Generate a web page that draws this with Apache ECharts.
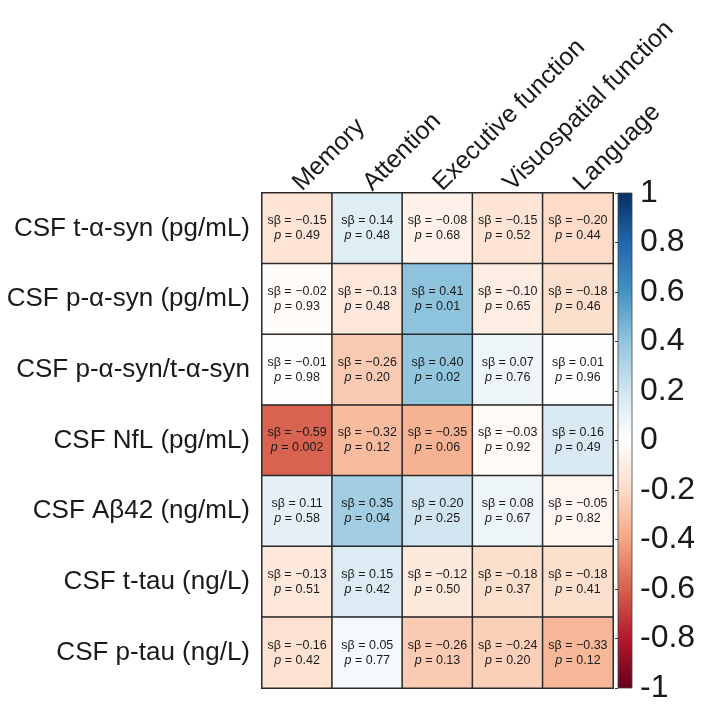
<!DOCTYPE html>
<html>
<head>
<meta charset="utf-8">
<script src="https://cdn.jsdelivr.net/npm/echarts@6/dist/echarts.min.js"></script>
<style>
html,body{margin:0;padding:0;background:#fff;}
#chart{width:709px;height:707px;}
</style>
</head>
<body>
<div id="chart"></div>
<script>
const columns = ['Memory', 'Attention', 'Executive function', 'Visuospatial function', 'Language'];
const rows = ['CSF t-α-syn (pg/mL)', 'CSF p-α-syn (pg/mL)', 'CSF p-α-syn/t-α-syn', 'CSF NfL (pg/mL)', 'CSF Aβ42 (ng/mL)', 'CSF t-tau (ng/L)', 'CSF p-tau (ng/L)'];
const betas = [
  [-0.15, 0.14, -0.08, -0.15, -0.20],
  [-0.02, -0.13, 0.41, -0.10, -0.18],
  [-0.01, -0.26, 0.40, 0.07, 0.01],
  [-0.59, -0.32, -0.35, -0.03, 0.16],
  [0.11, 0.35, 0.20, 0.08, -0.05],
  [-0.13, 0.15, -0.12, -0.18, -0.18],
  [-0.16, 0.05, -0.26, -0.24, -0.33]
];
const pvals = [
  ['0.49', '0.48', '0.68', '0.52', '0.44'],
  ['0.93', '0.48', '0.01', '0.65', '0.46'],
  ['0.98', '0.20', '0.02', '0.76', '0.96'],
  ['0.002', '0.12', '0.06', '0.92', '0.49'],
  ['0.58', '0.04', '0.25', '0.67', '0.82'],
  ['0.51', '0.42', '0.50', '0.37', '0.41'],
  ['0.42', '0.77', '0.13', '0.20', '0.12']
];
const colorbarTicks = ['-1', '-0.8', '-0.6', '-0.4', '-0.2', '0', '0.2', '0.4', '0.6', '0.8', '1'];
const palette = ['#67001F', '#B2182B', '#D6604D', '#F4A582', '#FDDBC7', '#FFFFFF', '#D1E5F0', '#92C5DE', '#4393C3', '#2166AC', '#053061'];

const FONT = 'Liberation Sans, Arial, sans-serif';
const data = [];
rows.forEach((r, i) => columns.forEach((c, j) => data.push([j, i, betas[i][j], pvals[i][j]])));
const fmt = v => (v < 0 ? '\u2212' : '') + Math.abs(v).toFixed(2);

const chart = echarts.init(document.getElementById('chart'));
chart.setOption({
  animation: false,
  backgroundColor: '#fff',
  grid: [
    { left: 262, top: 193, width: 351, height: 495 },
    { left: 618, top: 193, width: 14, height: 495 }
  ],
  xAxis: [
    { type: 'category', data: columns, position: 'top', gridIndex: 0,
      axisLine: { show: false }, axisTick: { show: false }, splitLine: { show: false },
      axisLabel: { rotate: -45, fontSize: 25, color: '#1a1a1a', fontFamily: FONT, margin: 6, interval: 0 } },
    { type: 'value', gridIndex: 1, min: 0, max: 1, show: false }
  ],
  yAxis: [
    { type: 'category', data: rows, inverse: true, gridIndex: 0,
      axisLine: { show: false }, axisTick: { show: false }, splitLine: { show: false },
      axisLabel: { fontSize: 26, color: '#1a1a1a', fontFamily: FONT, margin: 12, interval: 0 } },
    { type: 'value', gridIndex: 1, min: -1, max: 1, interval: 0.2, position: 'right',
      axisLine: { show: false }, splitLine: { show: false },
      axisTick: { show: true, inside: true, length: 3, lineStyle: { color: '#333', width: 1 } },
      axisLabel: { fontSize: 32, color: '#1a1a1a', fontFamily: FONT, margin: 8,
        formatter: v => colorbarTicks[Math.round((v + 1) / 0.2)] } }
  ],
  visualMap: {
    show: false, min: -1, max: 1, dimension: 2, seriesIndex: 0,
    inRange: { color: palette }
  },
  series: [
    {
      type: 'heatmap', xAxisIndex: 0, yAxisIndex: 0, data: data,
      itemStyle: { borderColor: '#2a2a2a', borderWidth: 1.5 },
      label: {
        show: true,
        formatter: p => `{b|s\u03B2 = ${fmt(p.value[2])}}\n{i|p}{b| = ${p.value[3]}}`,
        rich: {
          b: { fontSize: 12.5, color: '#1a1a1a', fontFamily: FONT, lineHeight: 15 },
          i: { fontSize: 12.5, color: '#1a1a1a', fontFamily: FONT, fontStyle: 'italic', lineHeight: 15 }
        }
      }
    },
    {
      type: 'custom', xAxisIndex: 1, yAxisIndex: 1, data: [[0, -1, 1, 1]], silent: true,
      renderItem: (params, api) => {
        const p0 = api.coord([0, -1]);
        const p1 = api.coord([1, 1]);
        const stops = palette.slice().reverse().map((c, k) => ({ offset: k / (palette.length - 1), color: c }));
        return {
          type: 'rect',
          shape: { x: p0[0], y: p1[1], width: p1[0] - p0[0], height: p0[1] - p1[1] },
          style: { fill: new echarts.graphic.LinearGradient(0, 0, 0, 1, stops), stroke: '#444', lineWidth: 0.8 }
        };
      }
    }
  ]
});
</script>
</body>
</html>
